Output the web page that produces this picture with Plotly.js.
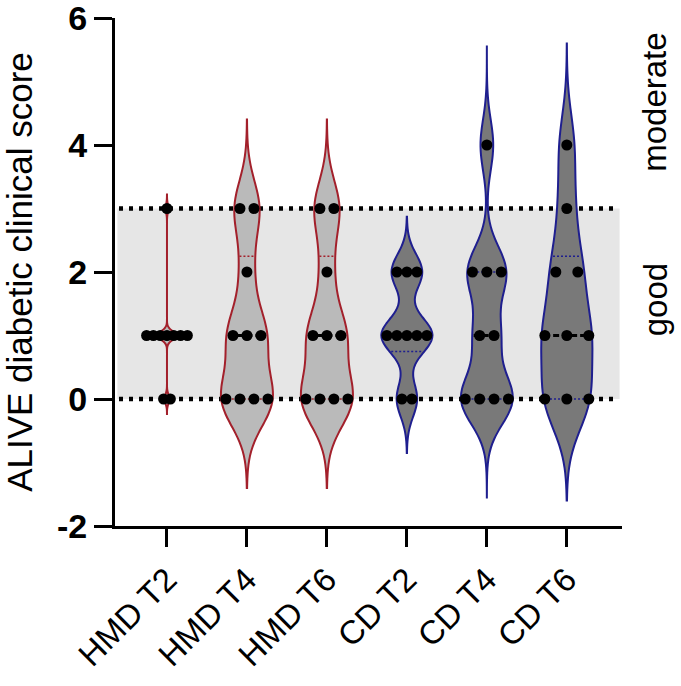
<!DOCTYPE html>
<html>
<head>
<meta charset="utf-8">
<script src="https://cdn.plot.ly/plotly-3.0.1.min.js"></script>
<style>
  html, body { margin: 0; padding: 0; background: #ffffff; }
  #chart { width: 681px; height: 686px; }
</style>
</head>
<body>
<div id="chart"></div>
<script>
// Groups along the x axis
const groups = ['HMD T2', 'HMD T4', 'HMD T6', 'CD T2', 'CD T4', 'CD T6'];

// ALIVE diabetic clinical score of each animal, per group
const hmdT2 = [0, 0, 1, 1, 1, 1, 1, 1, 1, 3];
const hmdT4 = [0, 0, 0, 0, 1, 1, 1, 2, 3, 3];
const hmdT6 = [0, 0, 0, 0, 1, 1, 1, 2, 3, 3];
const cdT2  = [0, 0, 1, 1, 1, 1, 1, 2, 2, 2];
const cdT4  = [0, 0, 0, 0, 1, 1, 2, 2, 2, 4];
const cdT6  = [0, 0, 0, 1, 1, 1, 2, 2, 3, 4];
const scores = [hmdT2, hmdT4, hmdT6, cdT2, cdT4, cdT6];

// Axis ticks and score bands
const yTicks = [-2, 0, 2, 4, 6];
const goodBand = [0, 3];
const bandLabels = ['good', 'moderate'];
const bandLabelY = [1.57, 4.68];

// Violin appearance (kernel bandwidth, drawn extent, width, dot spacing)
const kdeBandwidth = [0.07, 0.44, 0.44, 0.28, 0.40, 0.52];
const kdeSpan = [[-0.25, 3.22], [-1.4, 4.4], [-1.4, 4.4], [-0.85, 2.87], [-1.55, 5.55], [-1.6, 5.6]];
const violinWidth = [0.225, 0.65, 0.65, 0.64, 0.65, 0.64];
const dotSpacing = [0.085, 0.175, 0.175, 0.125, 0.18, 0.275];
const outlineColor = ['#a3202b', '#a3202b', '#a3202b', '#1f1f8f', '#1f1f8f', '#1f1f8f'];
const fillColor = ['#bababa', '#bababa', '#bababa', '#797979', '#797979', '#797979'];

// Quartiles the GraphPad way: position (n + 1) * p in the sorted list
function quantile(vals, p) {
  const s = vals.slice().sort((a, b) => a - b);
  const n = s.length;
  const pos = (n + 1) * p;
  if (pos <= 1) return s[0];
  if (pos >= n) return s[n - 1];
  const lo = Math.floor(pos);
  return s[lo - 1] + (pos - lo) * (s[lo] - s[lo - 1]);
}

// Gaussian kernel density, same kernel the violin trace uses
function density(vals, bw, y) {
  let sum = 0;
  for (const v of vals) sum += Math.exp(-0.5 * Math.pow((y - v) / bw, 2));
  return sum / (vals.length * bw * Math.sqrt(2 * Math.PI));
}

// Half width of violin i at score y, in x-axis units
function halfWidthAt(i, y) {
  const [a, b] = kdeSpan[i];
  let peak = 0;
  for (let k = 0; k <= 600; k++) {
    peak = Math.max(peak, density(scores[i], kdeBandwidth[i], a + (b - a) * k / 600));
  }
  return density(scores[i], kdeBandwidth[i], y) / peak * violinWidth[i] / 2;
}

const traces = [];

// Violins
scores.forEach((vals, i) => {
  traces.push({
    type: 'violin',
    y: vals,
    x0: i,
    name: groups[i],
    orientation: 'v',
    bandwidth: kdeBandwidth[i],
    spanmode: 'manual',
    span: kdeSpan[i],
    scalemode: 'width',
    width: violinWidth[i],
    points: false,
    box: { visible: false },
    meanline: { visible: false },
    line: { color: outlineColor[i], width: 2 },
    fillcolor: fillColor[i],
    hoverinfo: 'skip'
  });
});

// Median (dashed) and quartile (dotted) lines across each violin
scores.forEach((vals, i) => {
  [[0.25, 'q'], [0.5, 'm'], [0.75, 'q']].forEach(([p, kind]) => {
    const y = quantile(vals, p);
    const hw = halfWidthAt(i, y) * 0.9;
    if (hw < 0.01) return;
    traces.push({
      type: 'scatter',
      mode: 'lines',
      x: [i - hw, i + hw],
      y: [y, y],
      line: kind === 'm'
        ? { color: '#000000', width: 3, dash: '6px,3px' }
        : { color: outlineColor[i], width: 1.5, dash: '2px,2px' },
      hoverinfo: 'skip'
    });
  });
});

// Individual scores, spread side by side within each level
scores.forEach((vals, i) => {
  const counts = {};
  vals.forEach(v => { counts[v] = (counts[v] || 0) + 1; });
  const xs = [], ys = [];
  Object.keys(counts).forEach(key => {
    const k = counts[key];
    for (let j = 0; j < k; j++) {
      xs.push(i + (j - (k - 1) / 2) * dotSpacing[i]);
      ys.push(Number(key));
    }
  });
  traces.push({
    type: 'scatter',
    mode: 'markers',
    x: xs,
    y: ys,
    marker: { color: '#000000', size: 11, line: { width: 0 } },
    hoverinfo: 'skip'
  });
});

const axisFont = { family: 'Liberation Sans, Arial, sans-serif', color: '#000000' };

const layout = {
  width: 681,
  height: 686,
  margin: { l: 115, r: 59, t: 18, b: 160, pad: 0 },
  paper_bgcolor: '#ffffff',
  plot_bgcolor: 'rgba(0,0,0,0)',
  showlegend: false,
  violinmode: 'overlay',
  font: axisFont,
  xaxis: {
    type: 'linear',
    range: [-0.65, 5.69],
    tickmode: 'array',
    tickvals: groups.map((g, i) => i),
    ticktext: groups,
    tickangle: -45,
    tickfont: Object.assign({ size: 33 }, axisFont),
    ticklabeloverflow: 'allow',
    showline: true,
    linewidth: 3,
    linecolor: '#000000',
    ticks: 'outside',
    ticklen: 18,
    tickwidth: 3,
    tickcolor: '#000000',
    showgrid: false,
    zeroline: false,
    fixedrange: true
  },
  yaxis: {
    range: [-2, 6],
    tickmode: 'array',
    tickvals: yTicks,
    ticktext: yTicks.map(String),
    tickfont: Object.assign({ size: 34, weight: 'bold' }, axisFont),
    ticklabeloverflow: 'allow',
    showline: true,
    linewidth: 3,
    linecolor: '#000000',
    ticks: 'outside',
    ticklen: 18,
    tickwidth: 3,
    tickcolor: '#000000',
    showgrid: false,
    zeroline: false,
    fixedrange: true,
    title: {
      text: 'ALIVE diabetic clinical score',
      font: Object.assign({ size: 35 }, axisFont),
      standoff: 15
    }
  },
  shapes: [
    {
      type: 'rect', layer: 'below', xref: 'x', yref: 'y',
      x0: -0.62, x1: 5.66, y0: goodBand[0], y1: goodBand[1],
      fillcolor: '#e6e6e6', line: { width: 0 }
    },
    {
      type: 'line', layer: 'below', xref: 'x', yref: 'y',
      x0: -0.6, x1: 5.62, y0: goodBand[0], y1: goodBand[0],
      line: { color: '#000000', width: 4.5, dash: '4px,6px' }
    },
    {
      type: 'line', layer: 'below', xref: 'x', yref: 'y',
      x0: -0.6, x1: 5.62, y0: goodBand[1], y1: goodBand[1],
      line: { color: '#000000', width: 4.5, dash: '4px,6px' }
    }
  ],
  annotations: bandLabels.map((t, i) => ({
    text: t,
    xref: 'paper', yref: 'y',
    x: 1.065, y: bandLabelY[i],
    xanchor: 'center', yanchor: 'middle',
    textangle: -90,
    showarrow: false,
    font: Object.assign({ size: 33 }, axisFont)
  }))
};

Plotly.newPlot('chart', traces, layout, { staticPlot: true, displayModeBar: false });
</script>
</body>
</html>
